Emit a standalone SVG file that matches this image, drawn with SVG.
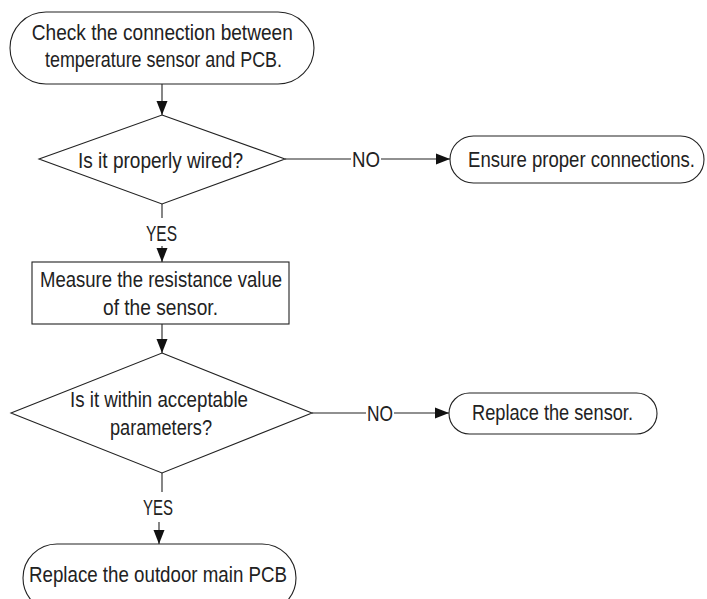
<svg xmlns="http://www.w3.org/2000/svg" width="707" height="599" viewBox="0 0 707 599">
<style>
.s{fill:#fff;stroke:#222;stroke-width:1.1}
.c{fill:none;stroke:#222;stroke-width:1.1}
text{font-family:"Liberation Sans Narrow","Liberation Sans",Arial,sans-serif;font-size:21.5px;fill:#222;text-anchor:middle}
</style>
<defs>
<marker id="ah" markerUnits="userSpaceOnUse" markerWidth="14" markerHeight="12" refX="14" refY="6" orient="auto">
<path d="M0,0.5 L14,6 L0,11.5 z" fill="#111"/>
</marker>
</defs>
<rect width="707" height="599" fill="#fff"/>
<g id="connectors">
<line class="c" x1="162" y1="84" x2="162" y2="115" marker-end="url(#ah)"/>
<line class="c" x1="285" y1="159" x2="351" y2="159"/>
<line class="c" x1="381" y1="159" x2="450" y2="159" marker-end="url(#ah)"/>
<text x="366" y="167" textLength="28" lengthAdjust="spacingAndGlyphs">NO</text>
<line class="c" x1="162" y1="204" x2="162" y2="218"/>
<text x="161.5" y="241" textLength="31" lengthAdjust="spacingAndGlyphs">YES</text>
<line class="c" x1="162" y1="246" x2="162" y2="262" marker-end="url(#ah)"/>
<line class="c" x1="162" y1="324" x2="162" y2="353" marker-end="url(#ah)"/>
<line class="c" x1="312" y1="413" x2="366" y2="413"/>
<line class="c" x1="394" y1="413" x2="449" y2="413" marker-end="url(#ah)"/>
<text x="380" y="421" textLength="26" lengthAdjust="spacingAndGlyphs">NO</text>
<line class="c" x1="162" y1="473" x2="162" y2="492"/>
<text x="158" y="515" textLength="30" lengthAdjust="spacingAndGlyphs">YES</text>
<line class="c" x1="159" y1="522" x2="159" y2="544" marker-end="url(#ah)"/>
</g>
<g id="n1">
<rect class="s" x="10" y="12" width="304" height="72" rx="36" ry="36"/>
<text x="162.3" y="40" textLength="261" lengthAdjust="spacingAndGlyphs">Check the connection between</text>
<text x="163.5" y="67" textLength="237" lengthAdjust="spacingAndGlyphs">temperature sensor and PCB.</text>
</g>
<g id="d1">
<polygon class="s" points="162,115 285,159 162,204 39,159"/>
<text x="160.5" y="168" textLength="165" lengthAdjust="spacingAndGlyphs">Is it properly wired?</text>
</g>
<g id="n2">
<rect class="s" x="450" y="136" width="254" height="47" rx="23.5" ry="23.5"/>
<text x="581.5" y="167" textLength="227" lengthAdjust="spacingAndGlyphs">Ensure proper connections.</text>
</g>
<g id="b1">
<rect class="s" x="32" y="262" width="257" height="62"/>
<text x="161" y="287" textLength="242" lengthAdjust="spacingAndGlyphs">Measure the resistance value</text>
<text x="160.5" y="315" textLength="115" lengthAdjust="spacingAndGlyphs">of the sensor.</text>
</g>
<g id="d2">
<polygon class="s" points="162,353 312,413 162,473 11,413"/>
<text x="159" y="407" textLength="178" lengthAdjust="spacingAndGlyphs">Is it within acceptable</text>
<text x="161" y="435" textLength="102" lengthAdjust="spacingAndGlyphs">parameters?</text>
</g>
<g id="n3">
<rect class="s" x="449" y="393" width="208" height="41" rx="20.5" ry="20.5"/>
<text x="552.5" y="420" textLength="161" lengthAdjust="spacingAndGlyphs">Replace the sensor.</text>
</g>
<g id="n4">
<rect class="s" x="23" y="544" width="273" height="68" rx="34" ry="34"/>
<text x="158" y="582" textLength="258" lengthAdjust="spacingAndGlyphs">Replace the outdoor main PCB</text>
</g>
</svg>
